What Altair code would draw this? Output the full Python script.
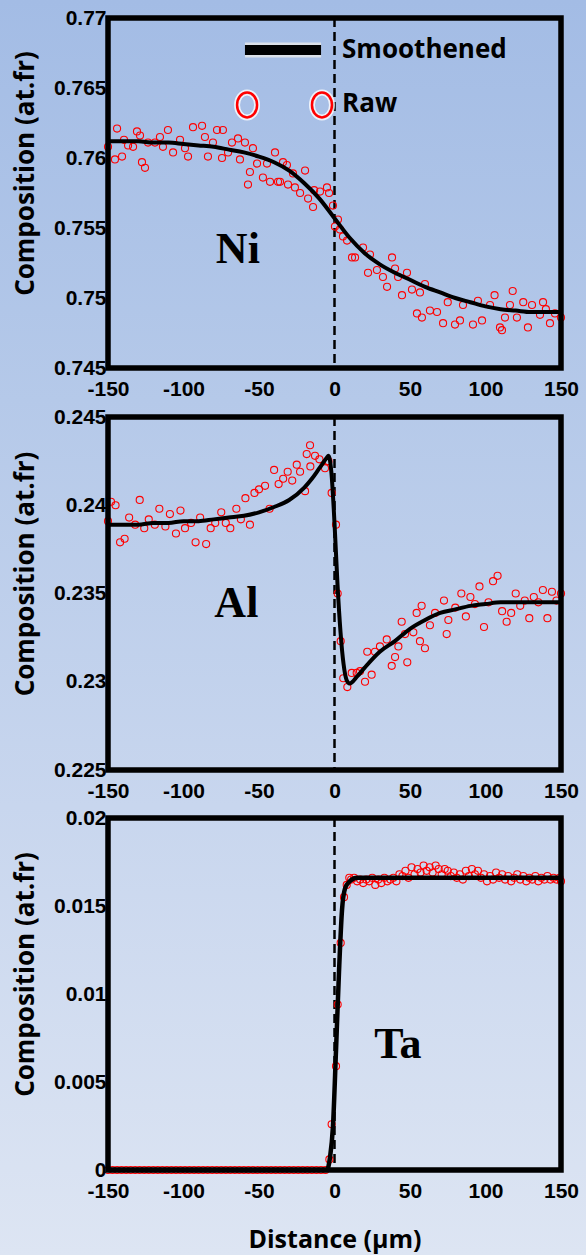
import altair as alt
import pandas as pd

# ---------------- data ----------------
x_ticks = [-150, -100, -50, 0, 50, 100, 150]
ni_ticks = [0.745, 0.75, 0.755, 0.76, 0.765, 0.77]
al_ticks = [0.225, 0.23, 0.235, 0.24, 0.245]
ta_ticks = [0, 0.005, 0.01, 0.015, 0.02]

# Ni
ni_sm_x = [-150, -140, -130, -120, -110, -100, -90, -80, -70, -60, -50, -40, -30, -20, -10, 0,
           10, 20, 30, 40, 50, 60, 70, 80, 90, 100, 110, 120, 130, 140, 150]
ni_sm_y = [0.7612, 0.7612, 0.7612, 0.7611, 0.7611, 0.7610, 0.7609, 0.7608, 0.7606, 0.7604, 0.7601,
           0.7597, 0.7591, 0.7582, 0.7571, 0.7557, 0.7543, 0.7532, 0.7524, 0.7518, 0.7513, 0.7508,
           0.7504, 0.7500, 0.7497, 0.7494, 0.7492, 0.7491, 0.7490, 0.7490, 0.7490]
ni_raw_x = [-150, -145.4, -144, -140.7, -139.4, -136.7, -133.4, -130.8, -128.8, -127.5, -125.5, -123.5,
            -118.9, -115.6, -113.6, -110.3, -106.9, -102.3, -99, -97, -93.7, -87.7, -85.8, -83.8,
            -80.5, -77.8, -74.5, -73.9, -70.5, -67.9, -63.9, -62.6, -59.3, -57.3, -56, -54, -51.3,
            -47.4, -44.7, -42.7, -39.4, -37.4, -36.1, -34.1, -31.5, -30.8, -27.5, -26.2, -22.8,
            -19.5, -17.5, -14.2, -13.5, -9.6, -5.0, -3.6, -1.0, 0.3, 2.3, 3.6, 5.6, 8.3, 11.6, 13.6,
            18.9, 22.2, 23.5, 28.1, 32.1, 34.8, 38.1, 40.1, 42.1, 44.7, 48.0, 51.3, 54.6, 56.6, 57.9,
            59.9, 63.2, 67.9, 71.9, 75, 79.8, 83.1, 85.1, 91.7, 95, 97.7, 103, 106, 109.6, 110.9,
            112.9, 116.2, 118, 120.8, 125, 128.1, 130.8, 136.1, 138.1, 140, 142.7, 146.0, 150]
ni_raw_y = [0.7608, 0.7599, 0.7621, 0.7601, 0.7613, 0.7609, 0.7608, 0.7619, 0.7616, 0.7597, 0.7593,
            0.7611, 0.7611, 0.7615, 0.7608, 0.7620, 0.7604, 0.7613, 0.7607, 0.7601, 0.7622, 0.7623,
            0.7615, 0.7601, 0.7611, 0.7620, 0.7600, 0.7620, 0.7604, 0.7611, 0.7614, 0.7599, 0.7611,
            0.7581, 0.7590, 0.7607, 0.7596, 0.7586, 0.7596, 0.7583, 0.7604, 0.7583, 0.7583, 0.7597,
            0.7595, 0.7581, 0.7589, 0.7579, 0.7575, 0.7591, 0.7571, 0.7565, 0.7577, 0.7576, 0.7579,
            0.7575, 0.7566, 0.7551, 0.7556, 0.7549, 0.7544, 0.7541, 0.7529, 0.7529, 0.7536, 0.7518,
            0.7531, 0.7520, 0.7515, 0.7508, 0.7529, 0.7521, 0.7515, 0.7502, 0.7518, 0.7506, 0.7489,
            0.7504, 0.7486, 0.7510, 0.7491, 0.7490, 0.7482, 0.7497, 0.7481, 0.7484, 0.7495, 0.7481,
            0.7498, 0.7484, 0.7495, 0.7502, 0.7479, 0.7477, 0.7486, 0.7495, 0.7505, 0.7486, 0.7497,
            0.7479, 0.7495, 0.7488, 0.7497, 0.7492, 0.7482, 0.7489, 0.7486]

# Al
al_sm_x = [-150, -140, -130, -120, -110, -100, -90, -80, -70, -60, -50, -40, -30, -20, -15, -10, -5,
           -4, -2, 0, 2, 4, 6, 8, 10, 15, 20, 30, 40, 50, 60, 70, 80, 90, 100, 110, 120, 130, 140, 150]
al_sm_y = [0.2389, 0.2389, 0.2389, 0.2390, 0.2390, 0.2391, 0.2391, 0.2392, 0.2393, 0.2394, 0.2396,
           0.2399, 0.2403, 0.2410, 0.2415, 0.2421, 0.2427, 0.2428, 0.2418, 0.2390, 0.2355, 0.2328,
           0.2310, 0.2301, 0.2299, 0.2303, 0.2308, 0.2317, 0.2323, 0.2330, 0.2335, 0.2339, 0.2341,
           0.2343, 0.2344, 0.2345, 0.2345, 0.2345, 0.2345, 0.2345]
al_raw_x = [-150, -148, -145, -142, -139, -136, -132, -129, -126, -123, -119, -116, -112, -109, -105,
            -102, -99, -95, -92, -89, -85, -82, -79, -75, -72, -69, -65, -62, -59, -56, -53, -50, -46,
            -43, -40, -37, -34, -31, -28, -25, -22.8, -19.5, -18.4, -16.2, -16, -12.9, -10, -6.3, -4,
            -1.9, 1.0, 2.1, 4.1, 5.8, 8.5, 11.4, 14.7, 16.9, 20.2, 21.7, 24.6, 26.8, 30.1, 34.6, 37.9,
            40.1, 42.3, 44.5, 46.7, 48.2, 52.2, 54.4, 56.6, 57.7, 59.9, 63.2, 66.6, 72.5, 74.3, 75.4,
            80, 84, 87, 90, 93, 96, 99, 102, 105, 108, 111, 114, 117, 120, 123, 126, 129, 132, 135,
            138, 141, 144, 147, 150]
al_raw_y = [0.2391, 0.2402, 0.2400, 0.2379, 0.2381, 0.2393, 0.2389, 0.2403, 0.2387, 0.2392, 0.2389,
            0.2398, 0.2388, 0.2395, 0.2384, 0.2397, 0.2387, 0.2390, 0.2379, 0.2393, 0.2378, 0.2387,
            0.2390, 0.2396, 0.2390, 0.2387, 0.2398, 0.2392, 0.2404, 0.2389, 0.2407, 0.2409, 0.2411,
            0.2398, 0.2420, 0.2412, 0.2415, 0.2419, 0.2414, 0.2423, 0.2419, 0.2408, 0.2429, 0.2434,
            0.2422, 0.2428, 0.2426, 0.2421, 0.2425, 0.2407, 0.2389, 0.2350, 0.2323, 0.2302, 0.2297,
            0.2305, 0.2305, 0.2306, 0.2300, 0.2317, 0.2304, 0.2317, 0.2320, 0.2324, 0.2309, 0.2314,
            0.2320, 0.2334, 0.2327, 0.2311, 0.2328, 0.2339, 0.2323, 0.2343, 0.2319, 0.2332, 0.2339,
            0.2346, 0.2327, 0.2335, 0.2342, 0.2350, 0.2337, 0.2348, 0.2344, 0.2354, 0.2331, 0.2345,
            0.2357, 0.2360, 0.2340, 0.2334, 0.2339, 0.2350, 0.2343, 0.2346, 0.2336, 0.2348, 0.2345,
            0.2352, 0.2336, 0.2351, 0.2346, 0.2350]

# Ta
ta_sm_x = [-150, -100, -50, -10, -5, -3, -1, 1, 3, 5, 7, 10, 15, 20, 50, 100, 150]
ta_sm_y = [0, 0, 0, 0, 0, 0.0007, 0.0025, 0.0068, 0.0113, 0.0148, 0.0160, 0.0164, 0.0166, 0.0166,
           0.0166, 0.0166, 0.0166]
ta_raw_x = [-150, -147, -144, -141, -138, -135, -132, -129, -126, -123, -120, -117, -114, -111, -108,
            -105, -102, -99, -96, -93, -90, -87, -84, -81, -78, -75, -72, -69, -66, -63, -60, -57,
            -54, -51, -48, -45, -42, -39, -36, -33, -30, -27, -24, -21, -18, -15, -12, -9, -6,
            -3.4, -1.9, 1.0, 2.1, 4.1, 6.3, 8.1, 9.8,
            11, 13, 15, 17, 19, 21, 23, 25, 27, 29, 31, 33, 35, 37, 39, 41, 43, 45, 47, 49, 51, 53,
            55, 57, 59, 61, 63, 65, 67, 69, 71, 73, 75, 77, 79, 81, 83, 85, 87, 89, 91, 93, 95, 97,
            99, 101, 103, 105, 107, 109, 111, 113, 115, 117, 119, 121, 123, 125, 127, 129, 131, 133,
            135, 137, 139, 141, 143, 145, 147, 149, 150]
ta_raw_y = [0, 0, 0, 0, 0, 0, 0, 0, 0, 0, 0, 0, 0, 0, 0, 0, 0, 0, 0, 0, 0, 0, 0, 0, 0,
            0, 0, 0, 0, 0, 0, 0, 0, 0, 0, 0, 0, 0, 0, 0, 0, 0, 0, 0, 0, 0, 0, 0, 0,
            0.0006, 0.0026, 0.0059, 0.0094, 0.0129, 0.0155, 0.0162, 0.0166,
            0.0165, 0.0166, 0.0164, 0.0165, 0.0163, 0.0165, 0.0164, 0.0166, 0.0162, 0.0165, 0.0163,
            0.0166, 0.0164, 0.0165, 0.0166, 0.0164, 0.0168, 0.0167, 0.0170, 0.0166, 0.0172, 0.0168,
            0.0171, 0.0169, 0.0173, 0.0170, 0.0172, 0.0169, 0.0173, 0.0171, 0.0168, 0.0171, 0.0170,
            0.0167, 0.0169, 0.0166, 0.0168, 0.0165, 0.0170, 0.0167, 0.0171, 0.0168, 0.0170, 0.0166,
            0.0168, 0.0164, 0.0167, 0.0165, 0.0169, 0.0166, 0.0168, 0.0165, 0.0167, 0.0164, 0.0166,
            0.0168, 0.0165, 0.0167, 0.0164, 0.0166, 0.0165, 0.0167, 0.0164, 0.0166, 0.0165, 0.0167,
            0.0165, 0.0166, 0.0165, 0.0166, 0.0164]

# annotations (data units)
elements = ["Ni", "Al", "Ta"]
elem_x = [-64, -65, 42]
elem_y = [0.7534, 0.2344, 0.0071]
legend_labels = ["Smoothened", "Raw"]
legend_label_x = [5, 5]
legend_label_y = [0.76771, 0.76389]
legend_line_x = [-59.3, -8.9]
legend_line_y = 0.76771
legend_marker_x = [-57.9, -8.3]
legend_marker_y = 0.76379

# ---------------- style ----------------
W = 453
LEFT, RIGHT = 108, 25
TOTAL_H = 1255
TOP_C = (163, 188, 229)
BOT_C = (221, 229, 243)
LABEL_FONT = "Liberation Sans"
TITLE_FONT = "Open Sans"


def col(y):
    t = y / TOTAL_H
    return "#%02x%02x%02x" % tuple(round(a + (b - a) * t) for a, b in zip(TOP_C, BOT_C))


def panel(raw_x, raw_y, sm_x, sm_y, ydom, yticks, h, top_abs, top_ext, bot_ext, elem_i,
          xtitle=None, legend=False, lw=4):
    xs = alt.Scale(domain=[-150, 150], nice=False, zero=False)
    ys = alt.Scale(domain=ydom, nice=False, zero=False)
    xaxis = alt.Axis(values=x_ticks, labelExpr="'' + datum.value", labelFlush=False,
                     labelFont=LABEL_FONT, labelFontSize=21, labelFontWeight="bold",
                     labelColor="black", labelPadding=10, ticks=False, domain=False, grid=False,
                     zindex=1, title=xtitle,
                     **({} if xtitle is None else dict(titleFont=TITLE_FONT, titleFontSize=25,
                                                        titleFontWeight="bold", titleColor="black",
                                                        titleY=77, titleBaseline="alphabetic")))
    yaxis = alt.Axis(values=yticks, labelExpr="'' + datum.value", labelFlush=False,
                     labelFont=LABEL_FONT, labelFontSize=21, labelFontWeight="bold",
                     labelColor="black", labelPadding=2, ticks=False, domain=False, grid=False,
                     zindex=1, title="Composition (at.fr)", titleFont=TITLE_FONT,
                     titleFontSize=26, titleFontWeight="bold", titleColor="black",
                     titleAngle=-90, titleX=-75, titleY=h / 2 - 20, titleAlign="center",
                     titleBaseline="alphabetic")
    X = alt.X("x:Q", scale=xs, axis=xaxis)
    Y = alt.Y("y:Q", scale=ys, axis=yaxis)

    c0 = col(top_abs - top_ext)
    c1 = col(top_abs + h + bot_ext)
    bg = alt.Chart(alt.Data(values=[{}])).mark_rect(
        fill=alt.Gradient(gradient="linear", x1=0, y1=0, x2=0, y2=1,
                          stops=[alt.GradientStop(color=c0, offset=0),
                                 alt.GradientStop(color=c1, offset=1)])
    ).encode(x=alt.value(-LEFT), x2=alt.value(W + RIGHT), y=alt.value(-top_ext),
             y2=alt.value(h + bot_ext))

    zero = alt.Chart(pd.DataFrame({"x": [0]})).mark_rule(
        color="black", strokeWidth=2.5, strokeDash=[9, 5]).encode(x=X)

    raw = alt.Chart(pd.DataFrame({"x": raw_x, "y": raw_y})).mark_point(
        shape="circle", filled=False, color="#ff0000", size=50, strokeWidth=1.1, opacity=1
    ).encode(x=X, y=Y)

    sm = alt.Chart(pd.DataFrame({"x": sm_x, "y": sm_y})).mark_line(
        color="black", strokeWidth=lw, interpolate="monotone").encode(x=X, y=Y)

    txt = alt.Chart(pd.DataFrame({"x": [elem_x[elem_i]], "y": [elem_y[elem_i]],
                                  "t": [elements[elem_i]]})).mark_text(
        font="Liberation Serif", fontSize=44, fontWeight="bold", color="black",
        align="center", baseline="middle").encode(x=X, y=Y, text="t:N")

    frame = alt.Chart(alt.Data(values=[{}])).mark_rect(
        filled=False, stroke="black", strokeWidth=5.5).encode(
        x=alt.value(0), x2=alt.value("width"), y=alt.value(0), y2=alt.value("height"))

    layers = [bg, zero, raw, sm, txt]
    if legend:
        ldf = pd.DataFrame({"x": [legend_line_x[0]], "x2": [legend_line_x[1]],
                            "y": [legend_line_y]})
        halo = alt.Chart(ldf).mark_rule(color="#e8e8e8", strokeWidth=15, opacity=0.8).encode(
            x=X, x2="x2:Q", y=Y)
        bar = alt.Chart(ldf).mark_rule(color="black", strokeWidth=10).encode(
            x=X, x2="x2:Q", y=Y)
        mdf = pd.DataFrame({"x": legend_marker_x, "y": [legend_marker_y] * 2})
        ell = "M0,-1A0.8,1,0,1,1,0,1A0.8,1,0,1,1,0,-1Z"
        mhalo = alt.Chart(mdf).mark_point(shape=ell, filled=False, color="white", size=625,
                                          strokeWidth=6, opacity=0.8).encode(x=X, y=Y)
        mk = alt.Chart(mdf).mark_point(shape=ell, filled=False, color="#ff0000", size=625,
                                       strokeWidth=2.5, opacity=1).encode(x=X, y=Y)
        tdf = pd.DataFrame({"x": legend_label_x, "y": legend_label_y, "t": legend_labels})
        lt = alt.Chart(tdf).mark_text(font=TITLE_FONT, fontSize=26, fontWeight="bold",
                                      color="black", align="left", baseline="middle").encode(
            x=X, y=Y, text="t:N")
        layers += [halo, bar, mhalo, mk, lt]
    layers.append(frame)
    return alt.layer(*layers).properties(width=W, height=h)


p1 = panel(ni_raw_x, ni_raw_y, ni_sm_x, ni_sm_y, [0.745, 0.77], ni_ticks, 350, 18, 18, 32, 0,
           legend=True)
p2 = panel(al_raw_x, al_raw_y, al_sm_x, al_sm_y, [0.225, 0.245], al_ticks, 353, 417, 17, 36, 1)
p3 = panel(ta_raw_x, ta_raw_y, ta_sm_x, ta_sm_y, [0, 0.02], ta_ticks, 352, 818, 12, 85, 2,
           xtitle="Distance (µm)", lw=4.5)

chart = alt.vconcat(p1, p2, p3, spacing=0).properties(
    padding=0, background=col(600)
).configure_view(stroke=None)

chart.save("out.html", embed_options={"renderer": "svg", "actions": False})
